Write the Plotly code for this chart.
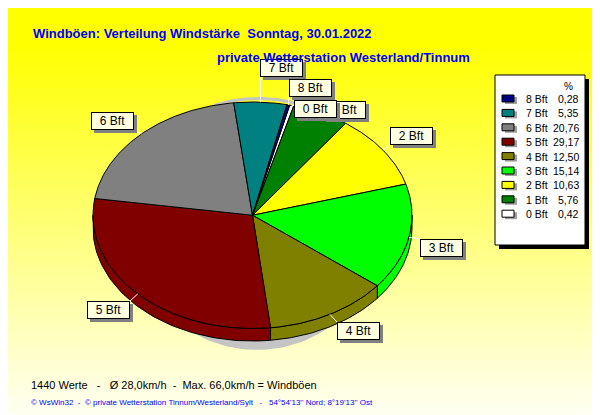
"""
Windböen: Verteilung Windstärke als 3D-Torte (WsWin32-Stil).
"""

import numpy as np
import plotly.graph_objects as go


# ============================================================
# 1. Daten
# ============================================================

stufen = ["0 Bft", "1 Bft", "2 Bft", "3 Bft", "4 Bft", "5 Bft", "6 Bft", "7 Bft", "8 Bft"]
anteile = [0.42, 5.76, 10.63, 15.14, 12.50, 29.17, 20.76, 5.35, 0.28]
farben = ["#ffffff", "#008000", "#ffff00", "#00ff00", "#808000",
          "#800000", "#808080", "#008080", "#000080"]

titel_1 = "Windböen: Verteilung Windstärke  Sonntag, 30.01.2022"
titel_2 = "private Wetterstation Westerland/Tinnum"
fuss_1 = "1440 Werte   -   Ø 28,0km/h  -  Max. 66,0km/h = Windböen"
fuss_2 = ("© WsWin32  -  © private Wetterstation Tinnum/Westerland/Sylt   -   "
          "54°54'13'' Nord; 8°19'13'' Ost")


# ============================================================
# 2. Geometrie (Pixel-Koordinaten, y nach unten)
# ============================================================

W, H = 600, 415
CX, CY, RX, RY = 244.5, 207.25, 159.5, 113.25
DICKE = 12.5       # Höhe des Tortenrands
START = 13.5       # Startwinkel, im Uhrzeigersinn ab oben

# linke obere Ecke der Beschriftungskästen
kasten_pos = {
    "0 Bft": (286, 92), "1 Bft": (315, 93), "2 Bft": (382, 119),
    "3 Bft": (412, 231), "4 Bft": (329, 314), "5 Bft": (79, 293),
    "6 Bft": (83, 104), "7 Bft": (252, 51), "8 Bft": (281, 71),
}
KW, KH = 43, 18
zeichen_reihenfolge = ["7 Bft", "8 Bft", "1 Bft", "0 Bft", "6 Bft",
                       "5 Bft", "4 Bft", "3 Bft", "2 Bft"]

FONT = "Liberation Sans"


def rand_punkt(t, dy=0.0):
    r = np.radians(t)
    return CX + RX * np.sin(r), CY - RY * np.cos(r) + dy


werte = np.asarray(anteile)
kum = np.cumsum(werte) / werte.sum() * 360.0
a_end = START + kum
a_start = a_end - werte / werte.sum() * 360.0
a_mitte = (a_start + a_end) / 2

fig = go.Figure()

# Schatten unter der Torte
t = np.linspace(0, 360, 200)
fig.add_trace(go.Scatter(
    x=249 + 125 * np.sin(np.radians(t)), y=218 - 124 * np.cos(np.radians(t)),
    mode="lines", fill="toself", fillcolor="#c4c4c4", line=dict(width=0),
    hoverinfo="skip", showlegend=False,
))
# heller Saum hinten oben
tt = np.linspace(-20, 20, 40)
fig.add_trace(go.Scatter(
    x=CX + 6 + (RX - 30) * np.sin(np.radians(tt)),
    y=CY - 2.5 - (RY + 1) * np.cos(np.radians(tt)),
    mode="lines", line=dict(color="#c4c4c4", width=3),
    hoverinfo="skip", showlegend=False,
))

# Rand (nur vorne sichtbar, 90..270 Grad)
for a0, a1, farbe in zip(a_start, a_end, farben):
    lo, hi = max(a0, 90.0), min(a1, 270.0)
    if hi <= lo:
        continue
    tt = np.linspace(lo, hi, 60)
    xo, yo = rand_punkt(tt)
    xu, yu = rand_punkt(tt[::-1], DICKE)
    fig.add_trace(go.Scatter(
        x=np.r_[xo, xu, xo[0]], y=np.r_[yo, yu, yo[0]],
        mode="lines", fill="toself", fillcolor=farbe,
        line=dict(color="black", width=1), hoverinfo="skip", showlegend=False,
    ))

# Deckfläche
for name, wert, a0, a1, farbe in zip(stufen, anteile, a_start, a_end, farben):
    tt = np.linspace(a0, a1, max(3, int((a1 - a0) * 1.5)))
    xs, ys = rand_punkt(tt)
    fig.add_trace(go.Scatter(
        x=np.r_[CX, xs, CX], y=np.r_[CY, ys, CY],
        mode="lines", fill="toself", fillcolor=farbe,
        line=dict(color="black", width=1), name=name,
        hovertemplate=f"{name}: {wert:.2f} %<extra></extra>".replace(".", ","),
        showlegend=False,
    ))

# Führungslinien zu den Kästen
for name, am in zip(stufen, a_mitte):
    px, py = rand_punkt(am)
    kx, ky = kasten_pos[name]
    ex = min(max(px, kx), kx + KW)
    ey = min(max(py, ky), ky + KH)
    fig.add_trace(go.Scatter(
        x=[px, ex], y=[py, ey], mode="lines",
        line=dict(color="white", width=1), hoverinfo="skip", showlegend=False,
    ))

annotations = []

# Beschriftungskästen mit Schatten
for name in zeichen_reihenfolge:
    kx, ky = kasten_pos[name]
    annotations.append(dict(
        x=kx + KW / 2, y=ky + KH / 2, xshift=3, yshift=-3, text=" ",
        showarrow=False, width=KW, height=KH, borderpad=0, borderwidth=0,
        bgcolor="#808080", xanchor="center", yanchor="middle",
    ))
    annotations.append(dict(
        x=kx + KW / 2, y=ky + KH / 2, text=name, showarrow=False,
        width=KW - 2, height=KH - 2, borderpad=0, borderwidth=1,
        bordercolor="black", bgcolor="#ffffe1",
        font=dict(family=FONT, size=12, color="black"),
        xanchor="center", yanchor="middle",
    ))

# Titel und Fußzeilen
annotations += [
    dict(x=23, y=25, text=titel_1, showarrow=False, xanchor="left", yanchor="middle",
         font=dict(family=FONT, size=13, color="#0000ff", weight="bold")),
    dict(x=207, y=49, text=titel_2, showarrow=False, xanchor="left", yanchor="middle",
         font=dict(family=FONT, size=13, color="#0000ff", weight="bold")),
    dict(x=21, y=377, text=fuss_1.replace(" ", "\u00a0"), showarrow=False,
         xanchor="left", yanchor="middle",
         font=dict(family=FONT, size=11, color="black")),
    dict(x=21, y=394, text=fuss_2.replace(" ", "\u00a0"), showarrow=False,
         xanchor="left", yanchor="middle",
         font=dict(family=FONT, size=8, color="#0000ff")),
]

shapes = []

# Hintergrund: Verlauf gelb -> weiß
n_band = 83
for i in range(n_band):
    y0 = i * H / n_band
    f = min(max((y0 - 35) / 380, 0.0), 1.0)
    b = int(round(250 * f))
    shapes.append(dict(
        type="rect", xref="x", yref="y", x0=0, x1=W,
        y0=y0, y1=(i + 1) * H / n_band + 0.5,
        fillcolor=f"rgb(255,255,{b})", line=dict(width=0), layer="below",
    ))

# Legende
LX0, LY0, LX1, LY1 = 487, 67, 577, 237
shapes.append(dict(type="rect", x0=LX0 + 4, y0=LY0 + 4, x1=LX1 + 4, y1=LY1 + 4,
                   fillcolor="black", line=dict(width=0), layer="above"))
shapes.append(dict(type="rect", x0=LX0, y0=LY0, x1=LX1, y1=LY1,
                   fillcolor="white", line=dict(color="black", width=1), layer="above"))
annotations.append(dict(x=560, y=78, text="%", showarrow=False,
                        font=dict(family=FONT, size=10, color="black")))

for i, (name, wert, farbe) in enumerate(zip(stufen[::-1], anteile[::-1], farben[::-1])):
    ry = 91 + i * 14.4
    shapes.append(dict(type="rect", x0=497, y0=ry - 2, x1=509, y1=ry + 5,
                       fillcolor="#a0a0a0", line=dict(width=0), layer="above"))
    shapes.append(dict(type="rect", x0=494, y0=ry - 4, x1=506, y1=ry + 3,
                       fillcolor=farbe, line=dict(color="black", width=1), layer="above"))
    annotations.append(dict(x=516, y=ry, text=name, showarrow=False,
                            xanchor="left", yanchor="middle",
                            font=dict(family=FONT, size=10.5, color="black")))
    annotations.append(dict(x=573, y=ry, text=f"{wert:.2f}".replace(".", ","),
                            showarrow=False, xanchor="right", yanchor="middle",
                            font=dict(family=FONT, size=10.5, color="black")))

fig.update_layout(
    width=W, height=H,
    margin=dict(l=0, r=0, t=0, b=0),
    paper_bgcolor="white", plot_bgcolor="white",
    xaxis=dict(range=[0, W], visible=False, fixedrange=True),
    yaxis=dict(range=[H, 0], visible=False, fixedrange=True),
    shapes=shapes, annotations=annotations,
    showlegend=False,
)

fig.write_html("out.html")
